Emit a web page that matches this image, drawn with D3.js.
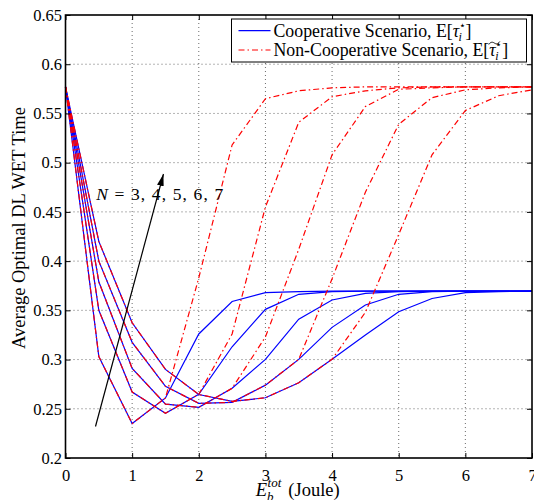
<!DOCTYPE html>
<html>
<head>
<meta charset="utf-8">
<script src="https://cdn.jsdelivr.net/npm/d3@7"></script>
<style>
body { margin: 0; background: #fff; }
</style>
</head>
<body>
<div id="chart"></div>
<script>
//total harvested energy (Joule)
var energy = [0, 0.5, 1, 1.5, 2, 2.5, 3, 3.5, 4, 4.5, 5, 5.5, 6, 6.5, 7];

//cooperative scenario, one array per N = 3..7
var coopN3 = [0.577, 0.303, 0.235, 0.261, 0.326, 0.359, 0.368, 0.369, 0.3695, 0.3695, 0.3695, 0.3695, 0.3695, 0.3695, 0.3695];
var coopN4 = [0.577, 0.350, 0.267, 0.2455, 0.2647, 0.313, 0.351, 0.3663, 0.369, 0.3695, 0.3695, 0.3695, 0.3695, 0.3695, 0.3695];
var coopN5 = [0.577, 0.379, 0.291, 0.2548, 0.2515, 0.2708, 0.3002, 0.341, 0.3605, 0.3673, 0.369, 0.3695, 0.3695, 0.3695, 0.3695];
var coopN6 = [0.577, 0.400, 0.3175, 0.2728, 0.2555, 0.2565, 0.274, 0.3002, 0.3327, 0.3554, 0.3663, 0.369, 0.3695, 0.3695, 0.3695];
var coopN7 = [0.577, 0.420, 0.3374, 0.290, 0.2645, 0.2575, 0.2612, 0.2765, 0.3002, 0.325, 0.3486, 0.362, 0.3679, 0.369, 0.3695];

//non-cooperative scenario, one array per N = 3..7
var nonCoopN3 = [0.577, 0.303, 0.235, 0.261, 0.383, 0.518, 0.565, 0.573, 0.576, 0.577, 0.577, 0.577, 0.577, 0.577, 0.577];
var nonCoopN4 = [0.577, 0.350, 0.267, 0.2455, 0.2647, 0.326, 0.455, 0.541, 0.567, 0.573, 0.576, 0.577, 0.577, 0.577, 0.577];
var nonCoopN5 = [0.577, 0.379, 0.291, 0.2548, 0.2515, 0.2708, 0.323, 0.412, 0.508, 0.557, 0.5745, 0.576, 0.577, 0.577, 0.577];
var nonCoopN6 = [0.577, 0.400, 0.3175, 0.2728, 0.2555, 0.2565, 0.274, 0.3002, 0.382, 0.47, 0.539, 0.566, 0.574, 0.576, 0.577];
var nonCoopN7 = [0.577, 0.420, 0.3374, 0.290, 0.2645, 0.2575, 0.2612, 0.2765, 0.3002, 0.348, 0.427, 0.508, 0.553, 0.568, 0.574];

var xTicks = [0, 1, 2, 3, 4, 5, 6, 7];
var yTicks = [0.2, 0.25, 0.3, 0.35, 0.4, 0.45, 0.5, 0.55, 0.6, 0.65];
var yTickLabels = ["0.2", "0.25", "0.3", "0.35", "0.4", "0.45", "0.5", "0.55", "0.6", "0.65"];

var coopSeries = [coopN3, coopN4, coopN5, coopN6, coopN7];
var nonCoopSeries = [nonCoopN3, nonCoopN4, nonCoopN5, nonCoopN6, nonCoopN7];

var FONT = "'Liberation Serif', 'Times New Roman', 'DejaVu Serif', serif";

//set the dimensions and margins of the graph
var margin = {top: 15, right: 2, bottom: 42, left: 65.5},
    width = 534 - margin.left - margin.right,
    height = 500 - margin.top - margin.bottom;

var svg = d3.select("#chart").append("svg")
    .attr("width", 534)
    .attr("height", 500)
    .append("g")
    .attr("transform", "translate(" + margin.left + "," + margin.top + ")");

var x = d3.scaleLinear().domain([0, 7]).range([0, width]);
var y = d3.scaleLinear().domain([0.2, 0.65]).range([height, 0]);

//dotted grid
svg.append("g")
    .selectAll("line")
    .data(xTicks.slice(1, -1))
    .join("line")
    .attr("x1", d => x(d)).attr("x2", d => x(d))
    .attr("y1", 0).attr("y2", height)
    .attr("stroke", "#444").attr("stroke-width", 0.8)
    .attr("stroke-dasharray", "1,3");

svg.append("g")
    .selectAll("line")
    .data(yTicks.slice(1, -1))
    .join("line")
    .attr("x1", 0).attr("x2", width)
    .attr("y1", d => y(d)).attr("y2", d => y(d))
    .attr("stroke", "#444").attr("stroke-width", 0.8)
    .attr("stroke-dasharray", "1,3");

//the curves
var line = d3.line()
    .x((d, i) => x(energy[i]))
    .y(d => y(d));

svg.append("g")
    .selectAll("path")
    .data(coopSeries)
    .join("path")
    .attr("d", line)
    .attr("fill", "none")
    .attr("stroke", "#0000ff")
    .attr("stroke-width", 1.2);

svg.append("g")
    .selectAll("path")
    .data(nonCoopSeries)
    .join("path")
    .attr("d", line)
    .attr("fill", "none")
    .attr("stroke", "#ff0000")
    .attr("stroke-width", 1.2)
    .attr("stroke-dasharray", "6,3,1.5,3");

//axes with inward ticks on all four sides
svg.append("g")
    .attr("transform", "translate(0," + height + ")")
    .call(d3.axisBottom(x).tickValues(xTicks).tickSizeInner(-5).tickSizeOuter(0).tickPadding(11).tickFormat(d3.format("d")));
svg.append("g")
    .call(d3.axisLeft(y).tickValues(yTicks).tickSizeInner(-5).tickSizeOuter(0).tickPadding(3.5)
        .tickFormat((d, i) => yTickLabels[i]));
svg.append("g")
    .call(d3.axisTop(x).tickValues(xTicks).tickSizeInner(-5).tickSizeOuter(0).tickFormat(""));
svg.append("g")
    .attr("transform", "translate(" + width + ",0)")
    .call(d3.axisRight(y).tickValues(yTicks).tickSizeInner(-5).tickSizeOuter(0).tickFormat(""));

svg.selectAll(".domain").remove();
svg.selectAll(".tick line").attr("stroke", "#000");
svg.selectAll(".tick text")
    .style("font-family", FONT)
    .style("font-size", "16.5px")
    .attr("fill", "#000");

svg.append("rect")
    .attr("width", width).attr("height", height)
    .attr("fill", "none").attr("stroke", "#000").attr("stroke-width", 1.6);

//axis labels
svg.append("text")
    .attr("transform", "translate(" + (25 - margin.left) + "," + (228 - margin.top) + ") rotate(-90)")
    .attr("text-anchor", "middle")
    .style("font-family", FONT).style("font-size", "18.5px")
    .text("Average Optimal DL WET Time");

var xl = svg.append("text")
    .attr("x", x(3.5) - 43)
    .attr("y", height + 38)
    .style("font-family", FONT).style("font-size", "18.5px");
xl.append("tspan").attr("font-style", "italic").text("E");
xl.append("tspan").attr("font-style", "italic").style("font-size", "13px").attr("dy", 5).text("b");
xl.append("tspan").attr("font-style", "italic").style("font-size", "13px").attr("dx", -6).attr("dy", -14).text("tot");
xl.append("tspan").attr("dx", 7).attr("dy", 9).text("(Joule)");

//annotation with arrow
var defs = d3.select("svg").append("defs");
defs.append("marker")
    .attr("id", "head")
    .attr("viewBox", "0 0 12 8")
    .attr("refX", 12).attr("refY", 4)
    .attr("markerWidth", 12).attr("markerHeight", 8)
    .attr("markerUnits", "userSpaceOnUse")
    .attr("orient", "auto")
    .append("path")
    .attr("d", "M0,0.6 L12,4 L0,7.4 Z")
    .attr("fill", "#000");

svg.append("line")
    .attr("x1", x(0.45)).attr("y1", y(0.232))
    .attr("x2", x(1.47)).attr("y2", y(0.4885))
    .attr("stroke", "#000").attr("stroke-width", 1.2)
    .attr("marker-end", "url(#head)");

var ann = svg.append("text")
    .attr("x", x(0.46)).attr("y", y(0.4623))
    .style("font-family", FONT).style("font-size", "17.5px")
    .attr("textLength", 127)
    .attr("lengthAdjust", "spacing");
ann.append("tspan").attr("font-style", "italic").text("N");
ann.append("tspan").text(" = 3, 4, 5, 6, 7");

//legend
var lg = svg.append("g").attr("transform", "translate(" + (231.5 - margin.left) + "," + (19 - margin.top) + ")");
lg.append("rect")
    .attr("width", 295).attr("height", 43)
    .attr("fill", "#fff").attr("stroke", "#000").attr("stroke-width", 1);
lg.append("line")
    .attr("x1", 7).attr("x2", 39).attr("y1", 11.7).attr("y2", 11.7)
    .attr("stroke", "#0000ff").attr("stroke-width", 1.2);
lg.append("line")
    .attr("x1", 7).attr("x2", 39).attr("y1", 31).attr("y2", 31)
    .attr("stroke", "#ff0000").attr("stroke-width", 1.2)
    .attr("stroke-dasharray", "6,3,1.5,3");

//legend entry: plain prefix then E[tau_i^star], measured piece by piece
function legendLabel(px, py, prefix, tilde) {
    var t = lg.append("text").attr("x", px).attr("y", py)
        .style("font-family", FONT).style("font-size", "17.8px")
        .text(prefix);
    var w = t.node().getComputedTextLength();
    var tau = lg.append("text").attr("x", px + w).attr("y", py)
        .style("font-family", FONT).style("font-size", "17.8px").style("font-style", "italic")
        .text("τ");
    var tw = tau.node().getComputedTextLength();
    if (tilde) {
        var tx = px + w - 0.5, ty = py - 13;
        lg.append("path")
            .attr("d", "M" + tx + "," + (ty + 1.5) + " C" + (tx + 2) + "," + (ty - 1.5) + " " + (tx + 4) + "," + (ty - 1) + " " + (tx + 5.5) + "," + ty +
                " C" + (tx + 7) + "," + (ty + 1) + " " + (tx + 9) + "," + (ty + 1.8) + " " + (tx + 11) + "," + (ty - 1.5))
            .attr("fill", "none").attr("stroke", "#000").attr("stroke-width", 0.9);
    }
    lg.append("text").attr("x", px + w + tw - 0.5).attr("y", py + 4)
        .style("font-family", FONT).style("font-size", "12px").style("font-style", "italic")
        .text("i");
    lg.append("text").attr("x", px + w + tw - 0.5).attr("y", py - 8)
        .style("font-family", FONT).style("font-size", "11px")
        .text("⋆");
    lg.append("text").attr("x", px + w + tw + 6.5).attr("y", py)
        .style("font-family", FONT).style("font-size", "17.8px")
        .text("]");
}
legendLabel(42, 17.5, "Cooperative Scenario, E[", false);
legendLabel(42, 37, "Non-Cooperative Scenario, E[", true);
</script>
</body>
</html>
